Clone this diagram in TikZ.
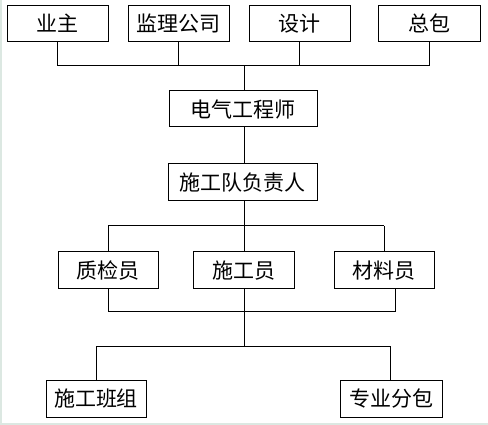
\documentclass[tikz,border=0pt]{standalone}
\usepackage{fontspec}
\newfontfamily\cjk{Noto Sans CJK SC}
\begin{document}
\begin{tikzpicture}[x=1pt,y=-1pt,
  box/.style={draw=black,line width=1pt,minimum height=36pt,inner sep=0pt,font=\cjk\fontsize{21}{21}\selectfont},
  conn/.style={draw=black,line width=1pt}]
\useasboundingbox (0,0) rectangle (488,425);
\fill[white] (0,0) rectangle (488,425);
\draw[color={rgb,255:red,220;green,232;blue,226},line width=2pt] (1,0) -- (1,424) -- (488,424);
% top row
\node[box,minimum width=101pt] (yz) at (57.5,23.5) {业主};
\node[box,minimum width=101pt] (jl) at (178.5,23.5) {监理公司};
\node[box,minimum width=101pt] (sj) at (299.5,23.5) {设计};
\node[box,minimum width=102pt] (zb) at (429,23.5) {总包};
\node[box,minimum width=148pt] (dq) at (243,109) {电气工程师};
\node[box,minimum width=149pt,minimum height=37pt] (sg) at (242.5,182.5) {施工队负责人};
\node[box,minimum width=100pt,minimum height=37pt] (zj) at (108,270.5) {质检员};
\node[box,minimum width=101pt,minimum height=37pt] (sgy) at (243.5,270.5) {施工员};
\node[box,minimum width=100pt,minimum height=37pt] (cl) at (384,270.5) {材料员};
\node[box,minimum width=100pt,minimum height=37pt] (bz) at (96,398.5) {施工班组};
\node[box,minimum width=102pt,minimum height=37pt] (fb) at (391,398.5) {专业分包};
\coordinate (h1l) at (58,66);
\coordinate (h1r) at (429,66);
\coordinate (h1c) at (244,66);
\draw[conn] (yz.south) -- (yz.south |- h1l);
\draw[conn] (jl.south) -- (jl.south |- h1l);
\draw[conn] (sj.south) -- (sj.south |- h1l);
\draw[conn] (zb.south) -- (zb.south |- h1l);
\draw[conn] (yz.south |- h1l) -- (zb.south |- h1r);
\draw[conn] (h1c) -- (h1c |- dq.north);
\draw[conn] (244,127) -- (244,164);
\coordinate (h2c) at (244,226);
\draw[conn] (244,201) -- (h2c);
\draw[conn] (zj.north |- h2c) -- (cl.north |- h2c);
\draw[conn] (zj.north |- h2c) -- (zj.north);
\draw[conn] (cl.north |- h2c) -- (cl.north);
\draw[conn] (h2c) -- (244,252);
\coordinate (h3c) at (244,312);
\draw[conn] (108,289) -- (108,312) -- (395,312) -- (395,289);
\draw[conn] (244,289) -- (h3c);
\coordinate (h4c) at (244,346);
\draw[conn] (h3c) -- (h4c);
\draw[conn] (bz.north |- h4c) -- (390,346);
\draw[conn] (bz.north |- h4c) -- (bz.north);
\draw[conn] (390,346) -- (390,380);
\end{tikzpicture}
\end{document}
